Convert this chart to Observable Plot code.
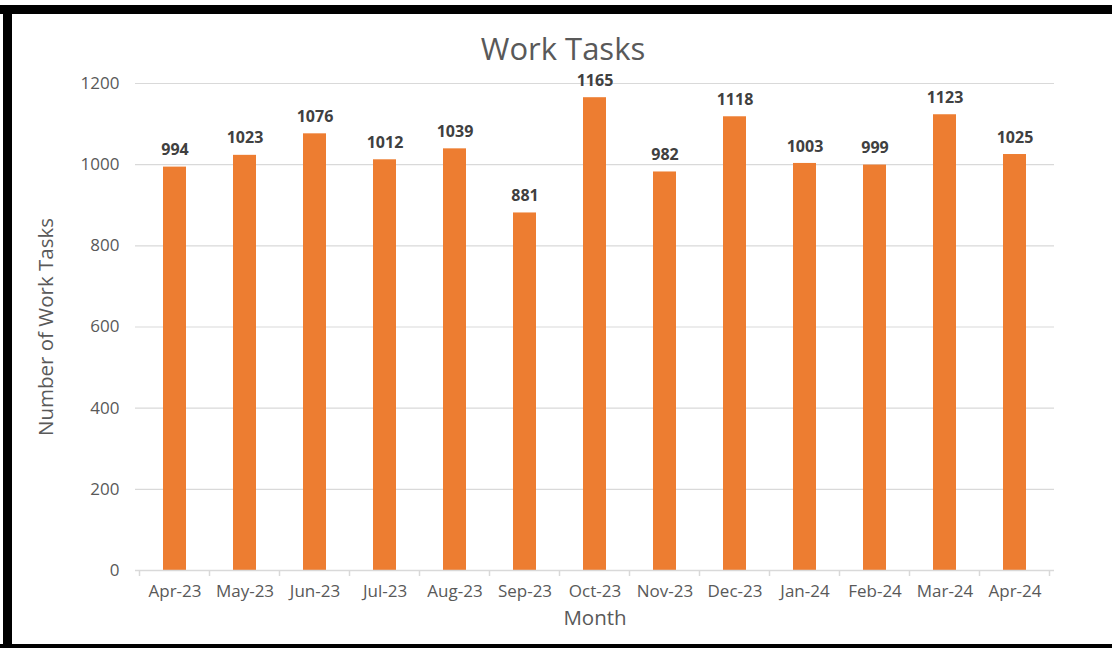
<!DOCTYPE html>
<html>
<head>
<meta charset="utf-8">
<script src="https://cdn.jsdelivr.net/npm/d3@7"></script>
<script src="https://cdn.jsdelivr.net/npm/@observablehq/plot@0.6"></script>
<style>
  html, body { margin: 0; padding: 0; background: #fff; }
  #wrap { position: relative; width: 1112px; height: 648px; overflow: hidden; background: #fff; font-family: "Open Sans", sans-serif; }
  #chart { position: absolute; left: 0; top: 0; }
  .edge { position: absolute; background: #000; }
  #title { position: absolute; left: 7px; width: 1112px; top: 28px; text-align: center; font-size: 31px; line-height: 40px; color: #595959; }
</style>
</head>
<body>
<div id="wrap">
  <div id="chart"></div>
  <div id="title">Work Tasks</div>
  <div class="edge" style="left:0;top:5px;width:1112px;height:9px;"></div>
  <div class="edge" style="left:3px;top:5px;width:9px;height:643px;"></div>
  <div class="edge" style="left:0;top:644px;width:1112px;height:4px;"></div>
</div>
<script>
const months = ["Apr-23","May-23","Jun-23","Jul-23","Aug-23","Sep-23","Oct-23","Nov-23","Dec-23","Jan-24","Feb-24","Mar-24","Apr-24"];
const tasks = [994, 1023, 1076, 1012, 1039, 881, 1165, 982, 1118, 1003, 999, 1123, 1025];
const yTicks = [0, 200, 400, 600, 800, 1000, 1200];
const yTitle = "Number of Work Tasks";
const xTitle = "Month";

const data = months.map((m, i) => ({month: m, tasks: tasks[i]}));

// tick marks at category boundaries below the x axis
function boundaryTicks(index, scales, values, dims) {
  const x = scales.x;
  const step = x.step ? x.step() : (dims.width - dims.marginLeft - dims.marginRight) / months.length;
  const bw = x.bandwidth ? x.bandwidth() : 0;
  const y0 = dims.height - dims.marginBottom;
  const g = d3.create("svg:g").attr("stroke", "#d9d9d9").attr("stroke-width", 1.5);
  const edges = months.map(m => x(m) - (step - bw) / 2);
  edges.push(x(months[months.length - 1]) + bw + (step - bw) / 2);
  for (const e of edges) {
    g.append("line").attr("x1", e).attr("x2", e).attr("y1", y0).attr("y2", y0 + 6);
  }
  return g.node();
}

const chart = Plot.plot({
  width: 1112,
  height: 648,
  marginLeft: 135,
  marginRight: 58,
  marginTop: 83,
  marginBottom: 78,
  style: {fontFamily: "'Open Sans', sans-serif", background: "transparent", color: "#595959"},
  x: {domain: months, paddingInner: 0.67, paddingOuter: 0.335, label: null},
  y: {domain: [0, 1200], ticks: yTicks, label: null},
  marks: [
    Plot.gridY(yTicks, {stroke: "#d9d9d9", strokeOpacity: 1, strokeWidth: 1.2}),
    Plot.barY(data, {x: "month", y: "tasks", fill: "#ED7D31"}),
    Plot.ruleY([0], {stroke: "#d9d9d9", strokeWidth: 1.5}),
    boundaryTicks,
    Plot.axisY(yTicks, {tickSize: 0, tickPadding: 16, fontSize: 17, fill: "#595959", label: null, tickFormat: d => String(d)}),
    Plot.axisX({tickSize: 0, tickPadding: 14, fontSize: 17, fill: "#595959", label: null}),
    Plot.text(data, {x: "month", y: "tasks", text: d => String(d.tasks), dy: -17, fontWeight: "bold", fontSize: 16, fill: "#404040"}),
    Plot.text([yTitle], {frameAnchor: "left", textAnchor: "middle", rotate: -90, dx: -89, fontSize: 20.5, fill: "#595959"}),
    Plot.text([xTitle], {frameAnchor: "bottom", lineAnchor: "bottom", dy: 54, fontSize: 20.5, fill: "#595959"})
  ]
});
document.getElementById("chart").appendChild(chart);
</script>
</body>
</html>
